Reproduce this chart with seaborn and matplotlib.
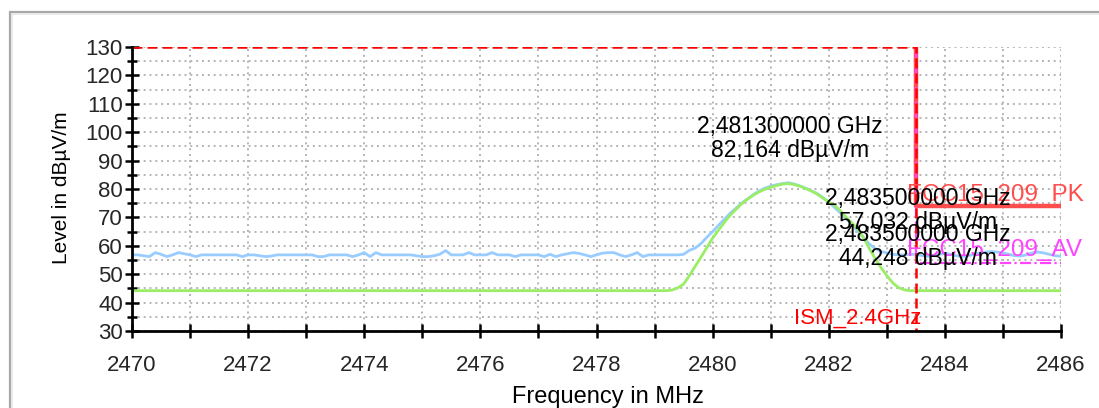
import numpy as np
import pandas as pd
import matplotlib
matplotlib.use("Agg")
import matplotlib.pyplot as plt
from matplotlib.lines import Line2D
import seaborn as sns

# ---------------- data ----------------
# Peak trace (light blue), 0.1 MHz steps from 2470.0 to 2486.0
blue_level = [
    56.8, 56.8, 56.5, 56.2, 57.6, 57.0, 56.2, 56.8, 57.6, 57.2,   # 2470
    56.8, 56.2, 56.8, 56.8, 56.8, 56.8, 56.8, 56.8, 56.8, 56.2,   # 2471
    56.8, 56.8, 56.5, 56.2, 56.4, 56.8, 56.8, 56.8, 56.8, 56.8,   # 2472
    56.8, 56.8, 56.2, 56.2, 56.8, 56.8, 56.8, 56.8, 56.2, 56.8,   # 2473
    57.6, 56.2, 57.6, 56.8, 56.8, 56.8, 56.8, 56.8, 56.8, 56.5,   # 2474
    56.2, 56.2, 56.5, 57.0, 58.3, 56.8, 56.8, 56.8, 57.6, 56.8,   # 2475
    56.8, 56.8, 57.6, 56.8, 56.8, 56.8, 56.2, 56.8, 56.8, 56.8,   # 2476
    56.8, 56.2, 57.0, 56.2, 56.8, 57.2, 57.6, 57.3, 56.8, 56.2,   # 2477
    56.8, 57.4, 57.6, 57.6, 56.8, 56.2, 56.8, 57.6, 56.2, 56.8,   # 2478
    56.8, 56.8, 56.8, 56.8, 56.8, 57.0, 58.4, 59.2, 60.8, 63.0,   # 2479
    65.0, 67.2, 69.3, 71.4, 73.2, 75.0, 76.5, 78.0, 79.3, 80.3,   # 2480
    81.0, 81.5, 81.9, 82.2, 81.8, 81.1, 80.3, 79.4, 78.4, 77.0,   # 2481
    75.4, 73.5, 71.6, 69.6, 67.4, 65.2, 62.9, 60.6, 59.0, 58.0,   # 2482
    57.5, 57.0, 56.8, 56.8, 57.0, 57.0, 56.6, 56.3, 56.5, 57.0,   # 2483
    57.3, 57.0, 56.5, 56.2, 56.5, 57.0, 57.5, 57.8, 58.0, 57.8,   # 2484
    57.5, 57.0, 56.5, 56.4, 56.8, 57.5, 57.8, 57.5, 57.0, 56.5,   # 2485
    56.3,                                                         # 2486
]
blue_freq = np.round(2470 + 0.1 * np.arange(len(blue_level)), 1)

# Average trace (light green)
green_freq = [2470.0, 2479.2, 2479.3, 2479.4, 2479.5, 2479.6, 2479.7, 2479.8,
              2479.9, 2480.0, 2480.1, 2480.2, 2480.3, 2480.4, 2480.5, 2480.6,
              2480.7, 2480.8, 2480.9, 2481.0, 2481.1, 2481.2, 2481.3, 2481.4,
              2481.5, 2481.6, 2481.7, 2481.8, 2481.9, 2482.0, 2482.1, 2482.2,
              2482.3, 2482.4, 2482.5, 2482.6, 2482.7, 2482.8, 2482.9, 2483.0,
              2483.1, 2483.2, 2483.3, 2483.4, 2486.0]
green_level = [44.2, 44.2, 44.4, 45.2, 46.5, 49.5, 52.8, 56.0,
               59.4, 62.7, 65.5, 68.2, 70.7, 72.8, 74.8, 76.4,
               77.8, 79.0, 79.9, 80.6, 81.2, 81.7, 81.9, 81.6,
               81.0, 80.2, 79.3, 78.2, 76.8, 75.4, 74.3, 72.3,
               70.1, 68.0, 66.0, 62.8, 59.0, 55.5, 52.3, 49.5,
               47.0, 45.3, 44.5, 44.2, 44.2]

# Limit lines
ism_freq = [2470.0, 2483.5, 2483.5]
ism_level = [130, 130, 30]
pk_freq = [2483.5, 2483.5, 2486.0]
pk_level = [130, 74, 74]
av_freq = [2483.5, 2483.5, 2486.0]
av_level = [130, 54, 54]

# Markers
marker_freq = [2481.3, 2483.5, 2483.5]
marker_level = [82.164, 57.032, 44.248]
marker_label_f = ["2,481300000 GHz", "2,483500000 GHz", "2,483500000 GHz"]
marker_label_l = ["82,164 dBµV/m", "57,032 dBµV/m", "44,248 dBµV/m"]

x_major = [2470, 2472, 2474, 2476, 2478, 2480, 2482, 2484, 2486]
x_minor = [2471, 2473, 2475, 2477, 2479, 2481, 2483, 2485]
y_major = [30, 40, 50, 60, 70, 80, 90, 100, 110, 120, 130]
y_minor = [35, 45, 55, 65, 75, 85, 95, 105, 115, 125]

# ---------------- style ----------------
sns.set_theme(style="white")
plt.rcParams["font.family"] = ["Liberation Sans", "DejaVu Sans"]

W, H = 1099, 408
fig = plt.figure(figsize=(W / 100, H / 100), dpi=100)
fig.patch.set_facecolor("white")

# outer frame (top/left border of the window)
fig.add_artist(Line2D([10 / W, 10 / W], [0, 1 - 12 / H], color="#a8a8a8", lw=1.6))
fig.add_artist(Line2D([10 / W, 1], [1 - 12 / H, 1 - 12 / H], color="#a8a8a8", lw=1.6))
fig.add_artist(Line2D([12 / W, 12 / W], [0, 1 - 14 / H], color="#e6e6e6", lw=1.2))
fig.add_artist(Line2D([12 / W, 1], [1 - 14 / H, 1 - 14 / H], color="#e6e6e6", lw=1.2))

ax = fig.add_axes([132 / W, 1 - 331 / H, 929 / W, 284 / H])
ax.set_facecolor("white")

ax.set_xlim(2470, 2486)
ax.set_ylim(30, 130)

# grid
for f in x_major + x_minor:
    ax.axvline(f, color="#b4b4b4", lw=1.4, ls=(0, (1, 2)), zorder=0)
for lv in y_major + y_minor:
    ax.axhline(lv, color="#b4b4b4", lw=1.4, ls=(0, (1, 2)), zorder=0)

# traces
df_blue = pd.DataFrame({"freq": blue_freq, "level": blue_level})
df_green = pd.DataFrame({"freq": green_freq, "level": green_level})
sns.lineplot(data=df_blue, x="freq", y="level", color="#99ccff", lw=2.0,
             estimator=None, sort=False, ax=ax, zorder=3)
sns.lineplot(data=df_green, x="freq", y="level", color="#99ee66", lw=2.0,
             estimator=None, sort=False, ax=ax, zorder=4)

# limit lines
sns.lineplot(x=pk_freq, y=pk_level, color="#ff4d4d", lw=3.2, estimator=None,
             sort=False, ax=ax, zorder=5)
sns.lineplot(x=av_freq, y=av_level, color="#ff44ff", lw=1.6, estimator=None,
             sort=False, ax=ax, zorder=6, linestyle=(0, (5, 1.5, 1, 1.5)))
sns.lineplot(x=ism_freq, y=ism_level, color="#ff0000", lw=1.8, estimator=None,
             sort=False, ax=ax, zorder=7, linestyle=(0, (4, 2)))

# limit labels
ax.annotate("FCC15_209_PK", (2483.35, pk_level[-1]), xytext=(0, 5),
            textcoords="offset pixels", ha="left", va="baseline",
            fontsize=17.5, color="#ff4d4d", zorder=11, annotation_clip=False)
ax.annotate("FCC15_209_AV", (2483.35, av_level[-1]), xytext=(0, 7),
            textcoords="offset pixels", ha="left", va="baseline",
            fontsize=17.5, color="#ff44ff", zorder=11, annotation_clip=False)
ax.annotate("ISM_2.4GHz", (2483.6, 30), xytext=(0, 7),
            textcoords="offset pixels", ha="right", va="baseline",
            fontsize=16, color="#ff0000", zorder=11, annotation_clip=False)

# marker texts
for f, lv, t1, t2 in zip(marker_freq, marker_level, marker_label_f, marker_label_l):
    ax.annotate(t1, (f, lv), xytext=(2, 56), textcoords="offset pixels",
                ha="center", va="center", fontsize=16.5, color="black", zorder=12,
                annotation_clip=False)
    ax.annotate(t2, (f, lv), xytext=(2, 32), textcoords="offset pixels",
                ha="center", va="center", fontsize=16.5, color="black", zorder=12,
                annotation_clip=False)

# axes & ticks
for s in ["top", "right"]:
    ax.spines[s].set_visible(False)
for s in ["left", "bottom"]:
    ax.spines[s].set_color("black")
    ax.spines[s].set_linewidth(2.0)
    ax.spines[s].set_zorder(9)

ax.set_xticks(x_major)
ax.set_xticks(x_minor, minor=True)
ax.set_yticks(y_major)
ax.set_yticks(y_minor, minor=True)
ax.set_xticklabels([str(v) for v in x_major])
ax.set_yticklabels([str(v) for v in y_major])
ax.tick_params(axis="x", which="both", direction="inout", length=9.4, width=1.8,
               color="black", labelsize=16, pad=12.5, bottom=True)
ax.tick_params(axis="y", which="major", direction="inout", length=10, width=1.8,
               color="black", labelsize=16, pad=1.5, left=True)
ax.tick_params(axis="y", which="minor", direction="inout", length=7.2, width=1.8,
               color="black", left=True)
ax.set_xlabel("")
ax.set_ylabel("")

fig.text(61.5 / W, 1 - 188 / H, "Level in dBµV/m", rotation=90, ha="center",
         va="center", fontsize=15, color="black")
fig.text(608 / W, 1 - 397 / H, "Frequency in MHz", ha="center", va="center",
         fontsize=17, color="black")

fig.savefig("out.png", dpi=100, facecolor="white")
